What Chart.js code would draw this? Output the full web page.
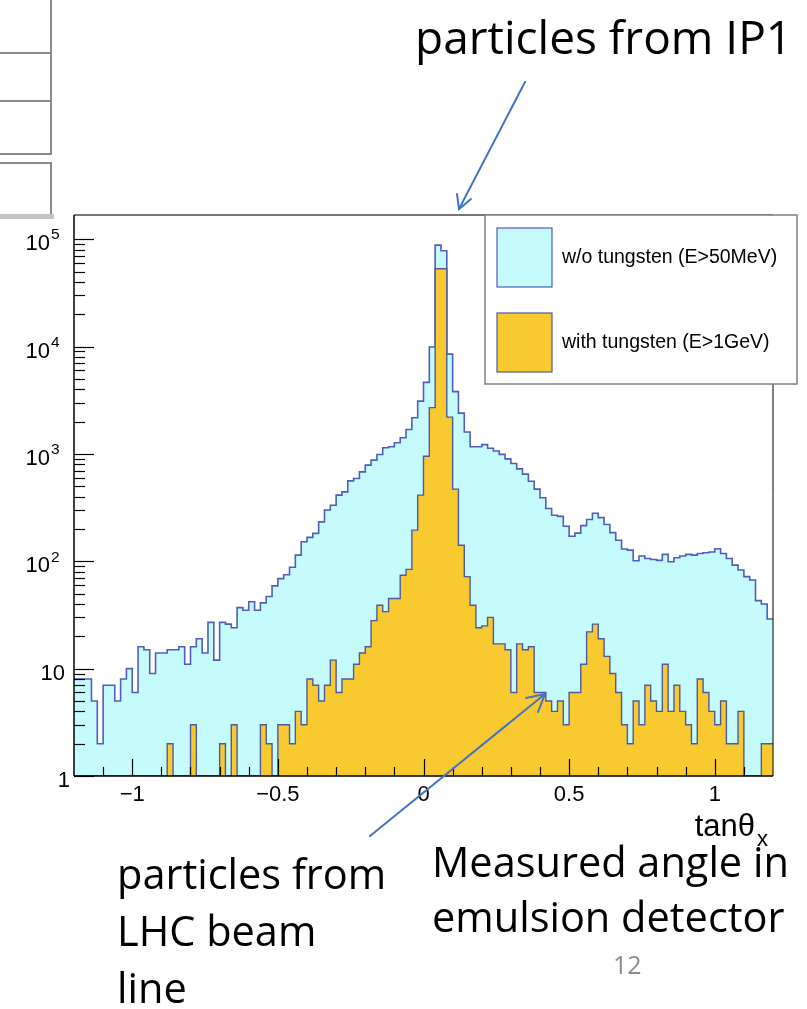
<!DOCTYPE html>
<html>
<head>
<meta charset="utf-8">
<script src="https://cdn.jsdelivr.net/npm/chart.js@4.4.1/dist/chart.umd.min.js"></script>
<style>
  html, body { margin: 0; padding: 0; background: #fff; }
  body { width: 807px; height: 1009px; position: relative; overflow: hidden; font-family: "Open Sans", sans-serif; }
  #plot { position: absolute; left: 0; top: 0; }
  #arrows { position: absolute; left: 0; top: 0; pointer-events: none; }
  .note { position: absolute; color: #000; font-size: 41.5px; line-height: 57px; white-space: nowrap; }
  .pagenum { position: absolute; left: 613px; top: 948px; font-size: 25px; line-height: 32px; color: #8c8c8c; }
  .tbl { position: absolute; border-color: #8a8a8a; border-style: solid; border-width: 0; }
</style>
</head>
<body>

<!-- table edge left over from the slide layout -->
<div class="tbl" style="left:-2px;top:-2px;width:52px;height:54px;border-width:0 2px 2px 0"></div>
<div class="tbl" style="left:-2px;top:52px;width:52px;height:48px;border-width:0 2px 2px 0"></div>
<div class="tbl" style="left:-2px;top:102px;width:52px;height:51px;border-width:0 2px 2px 0"></div>
<div class="tbl" style="left:-2px;top:162px;width:52px;height:50px;border-width:2px 2px 2px 0"></div>
<div style="position:absolute;left:0;top:214px;width:54px;height:5px;background:#c4c4c4"></div>

<canvas id="plot" width="807" height="1009"></canvas>

<svg id="arrows" width="807" height="1009">
  <g stroke="#4472c4" stroke-width="2" fill="none" stroke-linecap="round">
    <line x1="525" y1="82" x2="459" y2="209"/>
    <polyline points="457,194 459,209 471,199"/>
    <line x1="370" y1="836" x2="545" y2="694"/>
    <polyline points="526,698 545,694 538,712"/>
  </g>
</svg>

<div class="note" style="left:415px;top:8px;font-size:46px">particles from IP1</div>
<div class="note" style="left:117px;top:845px">particles from<br>LHC beam<br>line</div>
<div class="note" style="left:432px;top:834px;line-height:55px">Measured angle in<br>emulsion detector</div>
<div class="pagenum">12</div>

<script>
// tanθx histograms, 120 bins from -1.2 to 1.2
const xLow = -1.2;
const xHigh = 1.2;
const nBins = 120;

const noTungsten = [
  8, 8, 8, 5, 2, 7, 7, 5, 8, 10,
  6, 16, 15, 9, 14, 14, 15, 15, 16, 11,
  16, 19, 14, 27, 12, 27, 26, 24, 37, 35,
  42, 35, 41, 47, 59, 69, 75, 88, 114, 152,
  167, 182, 233, 300, 333, 413, 443, 561, 590, 681,
  787, 875, 989, 1140, 1165, 1270, 1414, 1690, 2170, 3100,
  4640, 9900, 88000, 78000, 8500, 3800, 2400, 1600, 1165, 1165,
  1220, 1130, 1065, 990, 900, 815, 726, 648, 557, 470,
  390, 310, 268, 262, 212, 171, 183, 215, 245, 280,
  255, 220, 185, 157, 130, 127, 101, 112, 106, 104,
  102, 116, 99, 108, 112, 116, 114, 118, 120, 122,
  131, 118, 106, 92, 83, 72, 67, 43, 40, 29
];

const withTungsten = [
  0, 0, 0, 0, 0, 0, 0, 0, 0, 0,
  0, 0, 0, 0, 0, 0, 2, 0, 0, 0,
  3, 0, 0, 0, 0, 2, 0, 3, 0, 0,
  0, 0, 3, 2, 0, 3, 3, 2, 4, 3,
  8, 7, 5, 7, 12, 6, 8, 8, 11, 14,
  16, 28, 39, 34, 45, 45, 74, 84, 195, 413,
  950, 2700, 53000, 53000, 2200, 470, 141, 72, 39, 24,
  25, 30, 17, 17, 15, 6, 17, 15, 16, 6,
  6, 5, 4, 5, 3, 6, 6, 11, 22, 26,
  19, 13, 9, 6, 3, 2, 5, 3, 7, 5,
  4, 11, 4, 7, 4, 3, 2, 8, 6, 4,
  3, 5, 2, 2, 4, 0, 0, 0, 2, 2
];

const seriesLabels = ['w/o tungsten (E>50MeV)', 'with tungsten (E>1GeV)'];

const xTickValues = [-1, -0.5, 0, 0.5, 1];
const xTickLabels = ['\u22121', '\u22120.5', '0', '0.5', '1'];
const yTickValues = [1, 10, 100, 1000, 10000, 100000];
const yTickLabels = [['1', ''], ['10', ''], ['10', '2'], ['10', '3'], ['10', '4'], ['10', '5']];
const yMax = 1.68e5;

const labelFont = '"Liberation Sans", Arial, sans-serif';

// step outline: one point per left bin edge plus the closing right edge
function stepPoints(counts) {
  const w = (xHigh - xLow) / nBins;
  const pts = counts.map((c, i) => ({ x: xLow + i * w, y: Math.max(c, 1) }));
  pts.push({ x: xHigh, y: Math.max(counts[counts.length - 1], 1) });
  return pts;
}

function seg(ctx, x1, y1, x2, y2) {
  ctx.beginPath();
  ctx.moveTo(x1, y1);
  ctx.lineTo(x2, y2);
  ctx.stroke();
}

// ROOT-like frame, inward ticks, labels and legend
const rootFrame = {
  id: 'rootFrame',
  afterDatasetsDraw(chart) {
    const { ctx, chartArea: a } = chart;
    const xs = chart.scales.x, ys = chart.scales.y;
    ctx.save();

    // frame
    ctx.strokeStyle = '#777';
    ctx.lineWidth = 2;
    seg(ctx, a.left, a.top, a.right, a.top);
    ctx.strokeStyle = '#000';
    ctx.lineWidth = 1.5;
    seg(ctx, a.left, a.top, a.left, a.bottom);
    seg(ctx, a.left, a.bottom, a.right, a.bottom);
    ctx.lineWidth = 1;
    seg(ctx, a.right, a.top, a.right, a.bottom);

    // y ticks: decades long, 2..9 short
    ctx.lineWidth = 1.2;
    for (let d = 0; d < 6; d++) {
      for (let m = 1; m <= 9; m++) {
        const v = m * Math.pow(10, d);
        if (v > ys.max) continue;
        const py = Math.round(ys.getPixelForValue(v)) + 0.5;
        seg(ctx, a.left, py, a.left + (m === 1 ? 20 : 11), py);
      }
    }
    // x ticks every 0.1, major every 0.5
    for (let k = -11; k <= 11; k++) {
      const px = Math.round(xs.getPixelForValue(k / 10)) + 0.5;
      seg(ctx, px, a.bottom, px, a.bottom - (k % 5 === 0 ? 17 : 9));
    }

    // tick labels
    ctx.fillStyle = '#000';
    ctx.textBaseline = 'middle';
    yTickValues.forEach((v, i) => {
      const py = ys.getPixelForValue(v) + 5;
      const [base, exp] = yTickLabels[i];
      ctx.font = '22px ' + labelFont;
      ctx.textAlign = 'right';
      if (exp) {
        ctx.fillText(base, a.left - 24, py);
        ctx.font = '15.5px ' + labelFont;
        ctx.textAlign = 'left';
        ctx.fillText(exp, a.left - 23, py - 9);
      } else {
        ctx.fillText(base, a.left - (base.length > 1 ? 9 : 4), py);
      }
    });
    ctx.font = '22px ' + labelFont;
    ctx.textAlign = 'center';
    xTickValues.forEach((v, i) => {
      ctx.fillText(xTickLabels[i], xs.getPixelForValue(v), a.bottom + 19);
    });

    // axis title tanθ with subscript x
    ctx.textBaseline = 'alphabetic';
    ctx.textAlign = 'right';
    ctx.font = '31px ' + labelFont;
    ctx.fillText('tan\u03b8', a.right - 18, a.bottom + 60);
    ctx.textAlign = 'left';
    ctx.font = '22px ' + labelFont;
    ctx.fillText('x', a.right - 16, a.bottom + 70);

    ctx.restore();
  },
  afterDraw(chart) {
    const { ctx, chartArea: a } = chart;
    const box = { left: a.left + 411, top: a.top, right: a.right + 24, bottom: a.top + 169 };
    ctx.save();
    ctx.fillStyle = '#fff';
    ctx.fillRect(box.left, box.top, box.right - box.left, box.bottom - box.top);
    ctx.strokeStyle = '#808080';
    ctx.lineWidth = 1.5;
    ctx.strokeRect(box.left, box.top, box.right - box.left, box.bottom - box.top);

    ctx.font = '19.5px ' + labelFont;
    ctx.textBaseline = 'middle';
    ctx.textAlign = 'left';
    chart.data.datasets.forEach((ds, i) => {
      const top = box.top + 13 + i * 85;
      ctx.fillStyle = ds.backgroundColor;
      ctx.fillRect(box.left + 12, top, 55, 59);
      ctx.strokeStyle = ds.borderColor;
      ctx.lineWidth = 1.2;
      ctx.strokeRect(box.left + 12, top, 55, 59);
      ctx.fillStyle = '#000';
      ctx.fillText(ds.label, box.left + 77, top + 30);
    });
    ctx.restore();
  }
};

const chart = new Chart(document.getElementById('plot'), {
  type: 'line',
  data: {
    datasets: [
      {
        label: seriesLabels[0],
        data: stepPoints(noTungsten),
        stepped: true,
        fill: 'start',
        backgroundColor: '#c6fbfe',
        borderColor: '#4e5ebd',
        borderWidth: 1.6,
        pointRadius: 0,
        order: 2
      },
      {
        label: seriesLabels[1],
        data: stepPoints(withTungsten),
        stepped: true,
        fill: 'start',
        backgroundColor: '#f9c930',
        borderColor: '#4f5a9e',
        borderWidth: 1.4,
        pointRadius: 0,
        order: 1
      }
    ]
  },
  options: {
    responsive: false,
    animation: false,
    devicePixelRatio: 1,
    layout: { padding: { left: 74, right: 34, top: 215, bottom: 233 } },
    scales: {
      x: { type: 'linear', min: xLow, max: xHigh, display: false },
      y: { type: 'logarithmic', min: 1, max: yMax, display: false }
    },
    plugins: {
      legend: { display: false },
      tooltip: { enabled: false }
    }
  },
  plugins: [rootFrame]
});
</script>
</body>
</html>
